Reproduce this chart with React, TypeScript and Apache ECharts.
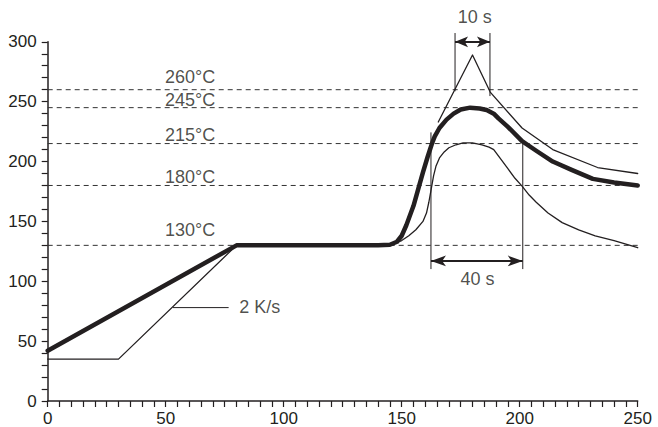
import React, { useEffect, useRef } from "react";
import * as echarts from "echarts";

// Solder profile curves: [time s, temperature °C]
const profileMain: [number, number][] = [
  [0, 42], [80, 130], [140, 130], [145, 130.5], [148, 133], [150, 138], [152, 147],
  [155, 163], [157, 177], [159, 191], [161, 204], [162, 210], [163, 216], [164, 221],
  [166, 228], [169, 235], [172, 240], [175, 243.5], [179, 245], [183, 244.3], [186, 243],
  [189, 240], [191, 236], [195, 229], [201, 217], [207, 209], [214, 200], [222, 193],
  [231, 185.5], [240, 182.5], [250, 180],
];
const profileUpper: [number, number][] = [
  [165.5, 233], [180, 289], [187.5, 258], [201, 228], [214, 210], [233, 195], [250, 190],
];
const profileLower: [number, number][] = [
  [0, 35], [30, 35], [80, 130], [140, 130], [146, 131], [150, 134], [153, 138], [156, 143],
  [159, 150], [160.5, 157], [161.5, 166], [162.5, 177], [163.5, 188], [164.5, 196],
  [166, 203], [168, 208], [170, 211.5], [173, 214], [176, 215.5], [180, 215.5], [184, 214],
  [187, 212], [189, 210], [192, 202], [195, 194], [198, 186], [201, 179.5], [204, 172],
  [207, 166], [212, 157], [218, 149], [225, 143], [232, 138], [240, 134], [250, 128],
];

// Reference temperature levels
const levelTemps = [130, 180, 215, 245, 260];
const levelLabels = levelTemps.map((t) => `${t}°C`);
const levelLabelAnchorY = [143, 187.4, 222, 251, 270.4];
const levelLabelAnchorX = 49.7;

// Annotations
const slopeLeader: [number, number][] = [[53.2, 78], [76.5, 78]];
const slopeText = { text: "2 K/s", x: 81.2, y: 78.8 };
const peakWindowLeft: [number, number][] = [[172.6, 307], [172.6, 259]];
const peakWindowRight: [number, number][] = [[187.4, 307], [187.4, 255]];
const peakArrow = { from: 172.6, to: 187.4, y: 300 };
const peakText = { text: "10 s", x: 181, y: 320.8 };
const liquidWindowLeft: [number, number][] = [[162.4, 224], [162.4, 110.5]];
const liquidWindowRight: [number, number][] = [[201.3, 216], [201.3, 110.5]];
const liquidArrow = { from: 162.4, to: 201.3, y: 117 };
const liquidText = { text: "40 s", x: 182.1, y: 101.7 };

const INK = "#231f20";
const FONT = "'Liberation Sans', Arial, Helvetica, sans-serif";

function textSeries(name: string, x: number, y: number, align: string) {
  return {
    type: "scatter",
    name,
    data: [[x, y]],
    symbolSize: 0,
    clip: false,
    silent: true,
    z: 5,
    label: {
      show: true,
      position: "inside",
      formatter: name,
      align,
      verticalAlign: "middle",
      fontSize: 18,
      fontFamily: FONT,
      color: INK,
    },
  };
}

function plainLine(data: [number, number][], width: number, extra: any = {}) {
  return {
    type: "line",
    data,
    symbol: "none",
    clip: false,
    silent: true,
    lineStyle: { color: INK, width, type: "solid", cap: "round", join: "round" },
    ...extra,
  };
}

function arrowMark(a: { from: number; to: number; y: number }, size: number[]) {
  return {
    silent: true,
    symbol: ["arrow", "arrow"],
    symbolSize: size,
    label: { show: false },
    lineStyle: { color: INK, width: 2, type: "solid" },
    emphasis: { disabled: true },
    data: [[{ coord: [a.from, a.y] }, { coord: [a.to, a.y] }]],
  };
}

export default function App() {
  const ref = useRef<HTMLDivElement>(null);
  useEffect(() => {
    if (!ref.current) return;
    const chart = echarts.init(ref.current, null, { renderer: "svg" });
    const axisCommon = {
      type: "value",
      axisLine: { show: true, onZero: false, lineStyle: { color: INK, width: 1.5 } },
      axisTick: { show: true, length: 6, lineStyle: { color: INK, width: 1.2 } },
      splitLine: { show: false },
      minorSplitLine: { show: false },
    };
    const series: any[] = [];
    levelTemps.forEach((t) => {
      series.push({
        type: "line",
        data: [[0, t], [250, t]],
        symbol: "none",
        silent: true,
        z: 1,
        lineStyle: { color: "#333", width: 1, type: [5, 4] },
      });
    });
    levelLabels.forEach((l, i) => {
      series.push(textSeries(l, levelLabelAnchorX, levelLabelAnchorY[i], "left"));
    });
    series.push(plainLine(profileLower, 1.3, { z: 3 }));
    series.push(plainLine(profileUpper, 1.3, { z: 3 }));
    series.push(plainLine(profileMain, 4.5, { z: 4 }));
    series.push(plainLine(slopeLeader, 1, { z: 3 }));
    series.push(textSeries(slopeText.text, slopeText.x, slopeText.y, "left"));
    series.push(plainLine(peakWindowLeft, 1, { z: 3, markLine: arrowMark(peakArrow, [8, 13]) }));
    series.push(plainLine(peakWindowRight, 1, { z: 3 }));
    series.push(textSeries(peakText.text, peakText.x, peakText.y, "center"));
    series.push(plainLine(liquidWindowLeft, 1, { z: 3, markLine: arrowMark(liquidArrow, [8, 15]) }));
    series.push(plainLine(liquidWindowRight, 1, { z: 3 }));
    series.push(textSeries(liquidText.text, liquidText.x, liquidText.y, "center"));

    chart.setOption({
      animation: false,
      backgroundColor: "#ffffff",
      textStyle: { fontFamily: FONT },
      grid: { left: 47.7, right: 20.3, top: 41.8, bottom: 23.7 },
      xAxis: {
        ...axisCommon,
        min: 0,
        max: 250,
        interval: 50,
        minorTick: { show: true, splitNumber: 10, length: 6, lineStyle: { color: INK, width: 1.2 } },
        axisLabel: { fontSize: 17, color: INK, fontFamily: FONT, margin: 9 },
      },
      yAxis: {
        ...axisCommon,
        min: 0,
        max: 300,
        interval: 50,
        minorTick: { show: true, splitNumber: 5, length: 6, lineStyle: { color: INK, width: 1.2 } },
        axisLabel: { fontSize: 17, color: INK, fontFamily: FONT, margin: 11 },
      },
      series,
    });
    return () => chart.dispose();
  }, []);
  return (
    <div
      ref={ref}
      style={{ position: "fixed", left: 0, top: 0, width: 658, height: 427, background: "#fff" }}
    />
  );
}
